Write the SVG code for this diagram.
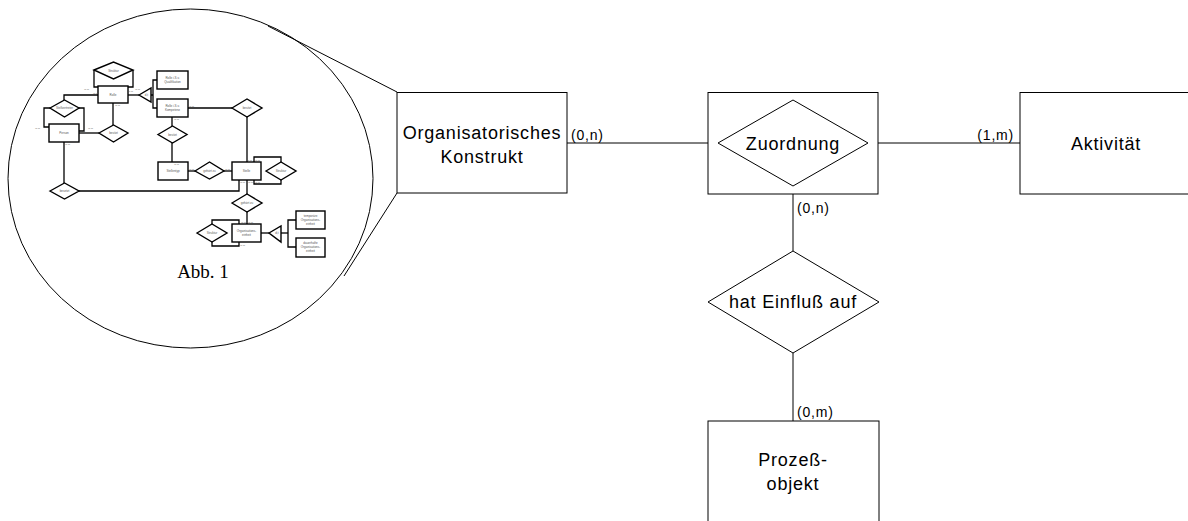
<svg xmlns="http://www.w3.org/2000/svg" width="1188" height="521" viewBox="0 0 1188 521">
<style>
.sh{fill:#fff;stroke:#000;stroke-width:1}
.ln{fill:none;stroke:#000;stroke-width:1}
.lbl{font-family:"Liberation Sans",Arial,sans-serif;font-size:18px;letter-spacing:0.8px;fill:#000;text-anchor:middle}
.card{font-family:"Liberation Sans",Arial,sans-serif;font-size:14px;letter-spacing:0.8px;fill:#000}
.ms{fill:#fff;stroke:#000;stroke-width:1.4}
.ml{fill:none;stroke:#000;stroke-width:1.3}
.mt{font-family:"Liberation Sans",Arial,sans-serif;font-size:3px;fill:#555;text-anchor:middle}
.mc{font-family:"Liberation Sans",Arial,sans-serif;font-size:2.5px;fill:#555}
</style>
<rect width="1188" height="521" fill="#fff"/>

<g id="lupe">
<ellipse cx="190.5" cy="178.5" rx="182.5" ry="169.5" class="ln"/>
<line x1="268" y1="26" x2="397" y2="92" class="ln"/>
<line x1="397" y1="193" x2="344" y2="276" class="ln"/>
</g>

<g id="abb1">
<g id="mini-connectors">
<polyline class="ml" points="94,70 94,87 98,87"/>
<polyline class="ml" points="133,70 133,87 128,87"/>
<line class="ml" x1="128" y1="95" x2="139" y2="95"/>
<line class="ml" x1="151" y1="95" x2="153" y2="95"/>
<polyline class="ml" points="157,80 153,80 153,108 157,108"/>
<line class="ml" x1="188" y1="108" x2="232" y2="108"/>
<line class="ml" x1="247" y1="117" x2="247" y2="162"/>
<polyline class="ml" points="254,162 254,157 281,157 281,162"/>
<polyline class="ml" points="254,180 254,184 281,184 281,180"/>
<line class="ml" x1="172" y1="117" x2="172" y2="126"/>
<line class="ml" x1="172" y1="143" x2="172" y2="162"/>
<line class="ml" x1="188" y1="171" x2="195" y2="171"/>
<line class="ml" x1="224" y1="171" x2="232" y2="171"/>
<line class="ml" x1="113" y1="103" x2="113" y2="125"/>
<line class="ml" x1="79" y1="133" x2="99" y2="133"/>
<polyline class="ml" points="98,95 64,95 64,100"/>
<polyline class="ml" points="50,108 44,108 44,127 49,127"/>
<polyline class="ml" points="79,108 84,108 84,131 79,131"/>
<line class="ml" x1="64" y1="142" x2="64" y2="183"/>
<polyline class="ml" points="79,191 239,191 239,180"/>
<line class="ml" x1="247" y1="180" x2="247" y2="194"/>
<line class="ml" x1="247" y1="212" x2="247" y2="224"/>
<polyline class="ml" points="212,224 212,220 239,220 239,224"/>
<polyline class="ml" points="212,242 212,246 239,246 239,242"/>
<line class="ml" x1="261" y1="233" x2="269" y2="233"/>
<line class="ml" x1="281" y1="233" x2="288" y2="233"/>
<polyline class="ml" points="296,220 288,220 288,247 296,247"/>
</g>
<g id="mini-struktur1"><polygon class="ms" points="94,70 113.5,62 133,70 113.5,79"/><text class="mt" x="113.5" y="71.5">Struktur</text></g>
<g id="mini-rolle"><rect class="ms" x="98" y="86" width="30" height="17"/><text class="mt" x="113" y="95.5">Rolle</text></g>
<g id="mini-dt1"><polygon class="ms" points="139,95 151,88 151,102"/><text class="mt" x="146.5" y="96">d,t</text></g>
<g id="mini-qual"><rect class="ms" x="157" y="71" width="31" height="18"/><text class="mt" x="172.5" y="79">Rolle i.S.v.</text><text class="mt" x="172.5" y="83">Qualifikation</text></g>
<g id="mini-komp"><rect class="ms" x="157" y="99" width="31" height="18"/><text class="mt" x="172.5" y="107">Rolle i.S.v.</text><text class="mt" x="172.5" y="111">Kompetenz</text></g>
<g id="mini-besitzt1"><polygon class="ms" points="232,108 247,99 262,108 247,117"/><text class="mt" x="247" y="109">besitzt</text></g>
<g id="mini-stelle"><rect class="ms" x="232" y="162" width="29" height="18"/><text class="mt" x="246.5" y="172">Stelle</text></g>
<g id="mini-struktur2"><polygon class="ms" points="266,171 281,162 296,171 281,180"/><text class="mt" x="281" y="172">Struktur</text></g>
<g id="mini-besitzt2"><polygon class="ms" points="158,134.5 172.5,126 187,134.5 172.5,143"/><text class="mt" x="172.5" y="135.5">besitzt</text></g>
<g id="mini-stellentyp"><rect class="ms" x="158" y="162" width="30" height="18"/><text class="mt" x="173" y="172">Stellentyp</text></g>
<g id="mini-gehoert1"><polygon class="ms" points="195,171 209.5,162 224,171 209.5,179"/><text class="mt" x="209.5" y="172">gehört zu</text></g>
<g id="mini-besitzt3"><polygon class="ms" points="99,133 113.5,125 128,133 113.5,142"/><text class="mt" x="113.5" y="134">besitzt</text></g>
<g id="mini-person"><rect class="ms" x="49" y="124" width="30" height="18"/><text class="mt" x="64" y="134">Person</text></g>
<g id="mini-vertreter"><polygon class="ms" points="50,108 64.5,100 79,108 64.5,117"/><text class="mt" x="64.5" y="109">Stellvertreter</text></g>
<g id="mini-besetzt"><polygon class="ms" points="50,191 64.5,183 79,191 64.5,199"/><text class="mt" x="64.5" y="192">besetzt</text></g>
<g id="mini-gehoert2"><polygon class="ms" points="232,203 247,194 262,203 247,212"/><text class="mt" x="247" y="204">gehört zu</text></g>
<g id="mini-orgeinheit"><rect class="ms" x="232" y="224" width="29" height="18"/><text class="mt" x="246.5" y="232">Organisations-</text><text class="mt" x="246.5" y="236">einheit</text></g>
<g id="mini-struktur3"><polygon class="ms" points="197,233 212,224 227,233 212,242"/><text class="mt" x="212" y="234">Struktur</text></g>
<g id="mini-dt2"><polygon class="ms" points="269,233 281,226 281,242"/><text class="mt" x="277" y="234">d,t</text></g>
<g id="mini-temp"><rect class="ms" x="296" y="211" width="29" height="18"/><text class="mt" x="310.5" y="217">temporäre</text><text class="mt" x="310.5" y="221">Organisations-</text><text class="mt" x="310.5" y="225">einheit</text></g>
<g id="mini-dauer"><rect class="ms" x="296" y="238" width="29" height="19"/><text class="mt" x="310.5" y="244">dauerhafte</text><text class="mt" x="310.5" y="248">Organisations-</text><text class="mt" x="310.5" y="252">einheit</text></g>
<g id="mini-cards">
<text class="mc" x="84" y="90">(0,n)</text>
<text class="mc" x="93" y="94">(0,n)</text>
<text class="mc" x="135" y="90">(0,n)</text>
<text class="mc" x="128" y="92">(0,n)</text>
<text class="mc" x="115" y="106">(0,n)</text>
<text class="mc" x="35" y="129">(0,n)</text>
<text class="mc" x="88" y="129">(0,n)</text>
<text class="mc" x="80" y="132">(0,n)</text>
<text class="mc" x="65" y="145">(0,n)</text>
<text class="mc" x="189" y="107">(0,n)</text>
<text class="mc" x="174" y="120">(0,n)</text>
<text class="mc" x="174" y="165">(0,n)</text>
<text class="mc" x="189" y="170">(0,n)</text>
<text class="mc" x="225" y="170">(0,n)</text>
<text class="mc" x="247" y="161">(0,n)</text>
<text class="mc" x="255" y="161">(0,n)</text>
<text class="mc" x="240" y="183">(0,n)</text>
<text class="mc" x="248" y="183">(0,n)</text>
<text class="mc" x="255" y="183">(0,n)</text>
<text class="mc" x="241" y="223">(0,n)</text>
<text class="mc" x="248" y="223">(0,n)</text>
<text class="mc" x="240" y="246">(0,n)</text>
</g>
<text x="203" y="278" font-family="'Liberation Serif','Times New Roman',serif" font-size="19" text-anchor="middle" fill="#000">Abb. 1</text>
</g>

<g id="connectors">
<line class="ln" x1="567" y1="143" x2="718" y2="143"/>
<line class="ln" x1="868" y1="143" x2="1020" y2="143"/>
<line class="ln" x1="793" y1="194" x2="793" y2="251"/>
<line class="ln" x1="793" y1="353" x2="793" y2="421"/>
<text class="card" x="571" y="140">(0,n)</text>
<text class="card" x="1014" y="140" text-anchor="end">(1,m)</text>
<text class="card" x="797" y="213">(0,n)</text>
<text class="card" x="797" y="417">(0,m)</text>
</g>

<g id="org-konstrukt">
<rect class="sh" x="397" y="92.5" width="170" height="100.5"/>
<text class="lbl" x="482" y="139">Organisatorisches</text>
<text class="lbl" x="482" y="163">Konstrukt</text>
</g>

<g id="zuordnung">
<rect class="sh" x="708" y="92.5" width="170" height="101.5"/>
<polygon class="sh" points="718,143 793,100 868,143 793,186"/>
<text class="lbl" x="793" y="150">Zuordnung</text>
</g>

<g id="aktivitaet">
<rect class="sh" x="1020" y="92.5" width="170" height="101.5"/>
<text class="lbl" x="1106" y="150">Aktivität</text>
</g>

<g id="hat-einfluss">
<polygon class="sh" points="708,302 793,251 879,302 793,353"/>
<text class="lbl" x="793" y="308">hat Einfluß auf</text>
</g>

<g id="prozessobjekt">
<rect class="sh" x="708" y="421" width="171" height="105"/>
<text class="lbl" x="793" y="466">Prozeß-</text>
<text class="lbl" x="793" y="490">objekt</text>
</g>
</svg>
